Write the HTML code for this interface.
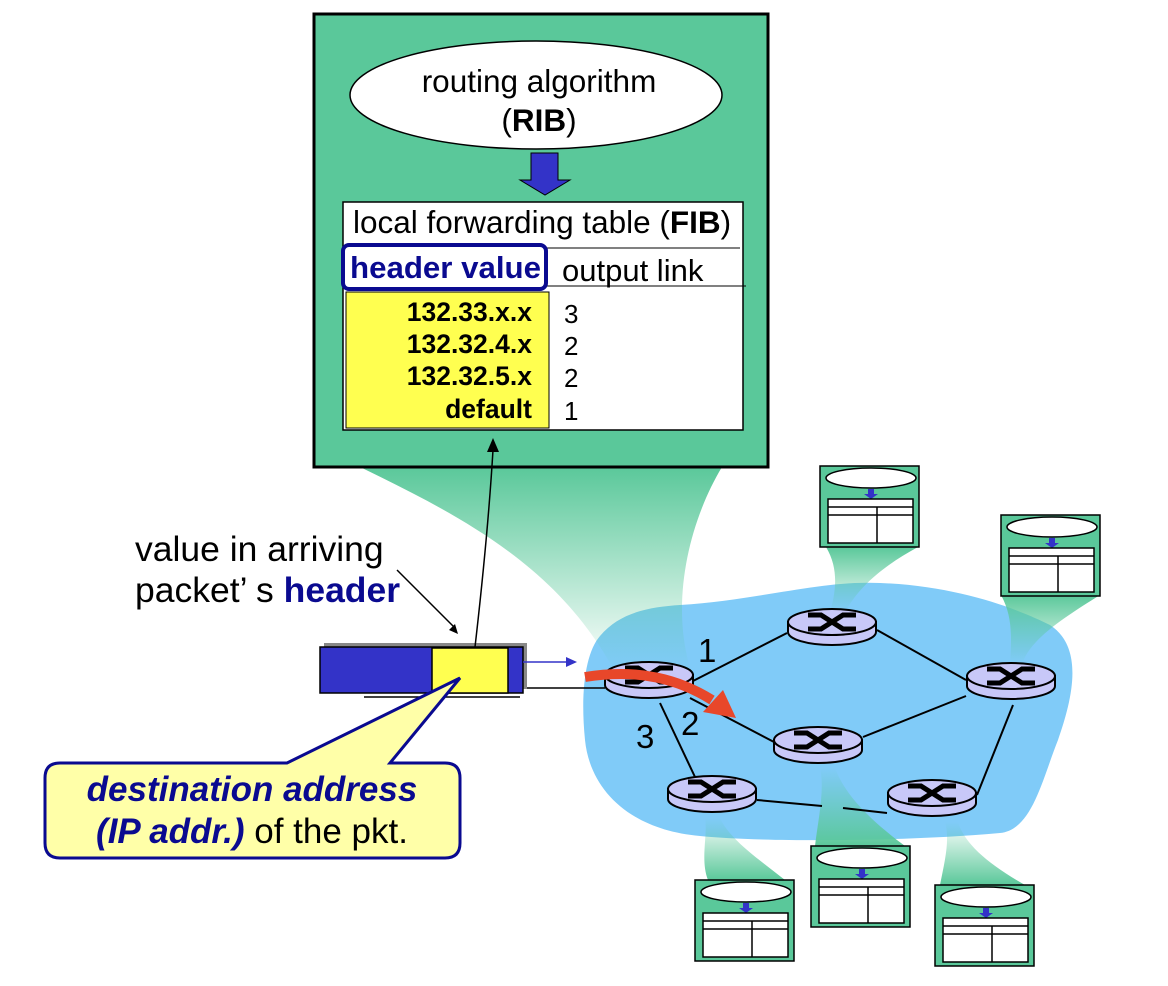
<!DOCTYPE html>
<html><head><meta charset="utf-8"><style>
html,body{margin:0;padding:0;background:#fff;}
svg{display:block;font-family:"Liberation Sans",Arial,sans-serif;}
</style></head><body>
<svg width="1168" height="986" viewBox="0 0 1168 986" xmlns="http://www.w3.org/2000/svg">
<defs>
<linearGradient id="gs" x1="0" y1="0" x2="0" y2="1">
<stop offset="0" stop-color="#5ac89a"/><stop offset="1" stop-color="#5ac89a" stop-opacity="0"/>
</linearGradient>
<linearGradient id="gu" x1="0" y1="1" x2="0" y2="0">
<stop offset="0" stop-color="#5ac89a"/><stop offset="1" stop-color="#5ac89a" stop-opacity="0"/>
</linearGradient>
<g id="rt">
<path d="M-44,0 v10 a44,13 0 0 0 88,0 v-10 z" fill="#c8c8f8" stroke="#000" stroke-width="2"/>
<ellipse cx="0" cy="0" rx="44" ry="13" fill="#c8c8f8" stroke="#000" stroke-width="2"/>
<path d="M-24,-7 h13 l22,14 h13 M-24,7 h13 l22,-14 h13" fill="none" stroke="#000" stroke-width="5"/>
</g>
<g id="sb">
<rect x="0" y="0" width="99" height="81" fill="#5ac89a" stroke="#000" stroke-width="1.5"/>
<ellipse cx="51" cy="12" rx="45" ry="10" fill="#fff" stroke="#000" stroke-width="1.5"/>
<rect x="48" y="23" width="6" height="6" fill="#3333c8"/>
<path d="M44,28 h14 l-7,5 z" fill="#3333c8"/>
<rect x="8" y="33" width="85" height="44" fill="#fff" stroke="#000" stroke-width="1.5"/>
<path d="M8,41 h85 M8,49 h85 M57,41 v36" stroke="#000" stroke-width="1.5"/>
</g>
</defs>

<path d="M680,605 C760,600 820,580 880,583 C960,586 1020,610 1050,625 C1085,648 1072,700 1058,740 C1042,780 1032,830 1000,833 C900,842 760,842 700,836 C630,830 590,790 585,740 C580,690 586,652 600,636 C620,612 650,607 680,605 Z" fill="#80cbf8"/>

<path d="M360,467 C470,520 560,570 615,672 L690,668 C670,600 690,520 722,467 Z" fill="url(#gs)"/>
<path d="M826,547 C840,570 835,595 830,612 L845,612 C860,585 885,565 918,547 Z" fill="url(#gs)"/>
<path d="M1001,595 C1012,615 1012,635 1010,664 L1022,664 C1030,640 1060,620 1100,595 Z" fill="url(#gs)"/>
<path d="M708,880 C700,860 708,835 705,818 L720,818 C730,840 760,860 785,880 Z" fill="url(#gu)"/>
<path d="M815,846 C818,820 825,790 820,768 L835,768 C845,795 870,820 905,846 Z" fill="url(#gu)"/>
<path d="M940,885 C945,860 950,840 945,822 L958,822 C965,845 990,865 1025,885 Z" fill="url(#gu)"/>

<g stroke="#000" stroke-width="2" fill="none">
<path d="M693,681 L787,633"/>
<path d="M877,630 L966,680"/>
<path d="M966,696 L863,737"/>
<path d="M1013,705 L977,795"/>
<path d="M660,703 L695,777"/>
<path d="M690,698 L774,742"/>
<path d="M757,800 L822,806 M843,808 L887,813"/>
</g>
<path d="M364,697 L520,697 M520,688 L605,688" stroke="#000" stroke-width="1.5"/>

<use href="#rt" x="649" y="675"/>
<use href="#rt" x="832" y="622"/>
<use href="#rt" x="1011" y="676"/>
<use href="#rt" x="818" y="740"/>
<use href="#rt" x="712" y="789"/>
<use href="#rt" x="932" y="793"/>

<path d="M585,677 C640,668 680,680 712,700" fill="none" stroke="#e8472a" stroke-width="10"/>
<path d="M703,712 L736,718 L723,690 Z" fill="#e8472a"/>

<text x="698" y="662" font-size="33">1</text>
<text x="681" y="735" font-size="33">2</text>
<text x="636" y="748" font-size="33">3</text>

<use href="#sb" x="820" y="466"/>
<use href="#sb" x="1001" y="515"/>
<use href="#sb" x="695" y="880"/>
<use href="#sb" x="811" y="846"/>
<use href="#sb" x="935" y="885"/>

<rect x="314" y="14" width="454" height="453" fill="#5ac89a" stroke="#000" stroke-width="3"/>
<ellipse cx="536" cy="95" rx="186" ry="54" fill="#fff" stroke="#000" stroke-width="1.5"/>
<text x="539" y="92" font-size="31.5" text-anchor="middle">routing algorithm</text>
<text x="539" y="131" font-size="31.5" text-anchor="middle">(<tspan font-weight="bold">RIB</tspan>)</text>
<path d="M531,153 h27 v27 h12 l-25,15 l-25,-15 h11 z" fill="#3333c8" stroke="#000" stroke-width="1"/>
<rect x="343" y="202" width="400" height="228" fill="#fff" stroke="#000" stroke-width="1.5"/>
<text x="353" y="233" font-size="31.5">local forwarding table (<tspan font-weight="bold">FIB</tspan>)</text>
<path d="M546,248 h194 M546,286 h200" stroke="#000" stroke-width="1"/>
<rect x="346" y="292" width="203" height="136" fill="#ffff50" stroke="#000" stroke-width="1"/>
<rect x="343" y="245" width="203" height="44" rx="6" fill="#fff" stroke="#0a0a90" stroke-width="4"/>
<text x="350" y="278" font-size="31" font-weight="bold" fill="#0a0a90" textLength="191" lengthAdjust="spacingAndGlyphs">header value</text>
<text x="562" y="281" font-size="31">output link</text>
<g font-size="26.5" font-weight="bold" text-anchor="end">
<text x="532" y="321">132.33.x.x</text>
<text x="532" y="353">132.32.4.x</text>
<text x="532" y="385">132.32.5.x</text>
<text x="532" y="418">default</text>
</g>
<g font-size="26">
<text x="564" y="323">3</text>
<text x="564" y="355">2</text>
<text x="564" y="387">2</text>
<text x="564" y="420">1</text>
</g>

<rect x="324" y="643" width="203" height="46" fill="#888"/>
<rect x="320" y="647" width="203" height="46" fill="#3333c8" stroke="#000" stroke-width="1.5"/>
<rect x="432" y="648" width="76" height="45" fill="#ffff50" stroke="#000" stroke-width="1.5"/>
<path d="M523,662 H568" stroke="#3333c8" stroke-width="1.5"/>
<path d="M566,657 L577,662 L566,667 Z" fill="#3333c8"/>
<path d="M475,647 C485,560 490,500 493,450" fill="none" stroke="#000" stroke-width="1.5"/>
<path d="M487,452 L493,438 L499,452 Z" fill="#000"/>
<path d="M397,570 L454,627" stroke="#000" stroke-width="1.5"/>
<path d="M449,630 L458,634 L455,624 Z" fill="#000"/>

<text x="135" y="561" font-size="35.5">value in arriving</text>
<text x="135" y="602" font-size="35.5">packet’ s <tspan font-weight="bold" fill="#0a0a90">header</tspan></text>

<path d="M60,763 H287 L460,678 L390,763 H445 Q460,763 460,778 V843 Q460,858 445,858 H60 Q45,858 45,843 V778 Q45,763 60,763 Z" fill="#ffffa8" stroke="#0a0a90" stroke-width="3"/>
<text x="252" y="801" font-size="35" font-weight="bold" font-style="italic" fill="#0a0a90" text-anchor="middle">destination address</text>
<text x="252" y="843" font-size="35" text-anchor="middle"><tspan font-weight="bold" font-style="italic" fill="#0a0a90">(IP addr.)</tspan> of the pkt.</text>
</svg>
</body></html>
